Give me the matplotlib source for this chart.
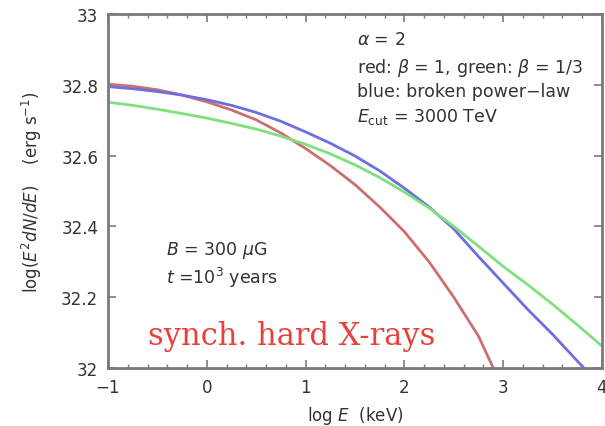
import numpy as np
import matplotlib.pyplot as plt
from matplotlib.ticker import MultipleLocator

# log E (keV)
log_e = [-1.0, -0.75, -0.5, -0.25, 0.0, 0.25, 0.5, 0.75, 1.0, 1.25, 1.5,
         1.75, 2.0, 2.25, 2.5, 2.75, 3.0, 3.25, 3.5, 3.75, 4.0]

# red: beta = 1
red_vals = [32.802, 32.796, 32.786, 32.771, 32.752, 32.729, 32.701, 32.664,
            32.620, 32.572, 32.518, 32.455, 32.385, 32.300, 32.200, 32.090,
            31.940, 31.78, 31.60, 31.40, 31.18]
# blue: broken power-law
blue_vals = [32.795, 32.789, 32.781, 32.771, 32.758, 32.742, 32.722, 32.697,
             32.667, 32.635, 32.599, 32.557, 32.508, 32.455, 32.393, 32.315,
             32.240, 32.165, 32.095, 32.020, 31.945]
# green: beta = 1/3
green_vals = [32.751, 32.742, 32.731, 32.719, 32.706, 32.691, 32.675, 32.655,
              32.632, 32.605, 32.574, 32.538, 32.497, 32.452, 32.400, 32.344,
              32.287, 32.235, 32.180, 32.122, 32.062]

x_ticks = [-1, 0, 1, 2, 3, 4]
x_labels = ['\u22121', '0', '1', '2', '3', '4']
y_ticks = [32, 32.2, 32.4, 32.6, 32.8, 33]
y_labels = ['32', '32.2', '32.4', '32.6', '32.8', '33']

fig = plt.figure(figsize=(6.05, 4.27), dpi=100)
ax = fig.add_axes([0.1785, 0.1358, 0.8165, 0.829])

ax.plot(log_e, red_vals, color='#cc6f6f', lw=2)
ax.plot(log_e, blue_vals, color='#6e6ede', lw=2)
ax.plot(log_e, green_vals, color='#80e07e', lw=2)

ax.set_xlim(-1, 4)
ax.set_ylim(32, 33)
ax.set_xticks(x_ticks)
ax.set_xticklabels(x_labels)
ax.xaxis.set_minor_locator(MultipleLocator(0.2))
ax.set_yticks(y_ticks)
ax.set_yticklabels(y_labels)

gray = '#7a7a7a'
for s in ax.spines.values():
    s.set_color(gray)
    s.set_linewidth(2)
ax.tick_params(which='both', direction='in', top=True, right=True,
               color=gray, labelcolor='#333333', labelsize=12)
ax.tick_params(which='major', length=6, width=1.2, pad=7)
ax.tick_params(which='minor', length=3, width=1)

ax.set_xlabel(r'log $E$  (keV)', fontsize=12, color='#333333', labelpad=6)
ax.set_ylabel(r'log($E^2dN/dE$)    (erg s$^{-1}$)', fontsize=12,
              color='#333333', labelpad=12)

tc = '#333333'
fs = 12.5
ax.text(1.52, 32.929, r'$\alpha$ = 2', fontsize=fs, color=tc, va='center')
ax.text(1.52, 32.850, r'red: $\beta$ = 1, green: $\beta$ = 1/3', fontsize=fs,
        color=tc, va='center')
ax.text(1.52, 32.782, 'blue: broken power\u2212law', fontsize=fs, color=tc,
        va='center')
ax.text(1.52, 32.712, r'$E_{\rm cut}$ = 3000 TeV', fontsize=fs, color=tc,
        va='center')

ax.text(-0.41, 32.336, r'$B$ = 300 $\mu$G', fontsize=fs, color=tc, va='center')
ax.text(-0.41, 32.257, r'$t$ =10$^3$ years', fontsize=fs, color=tc, va='center')

ax.text(-0.6, 32.068, 'synch. hard X-rays', fontsize=22, color='#e8403a',
        family='DejaVu Serif', va='baseline')

fig.savefig('out.png', dpi=100)
